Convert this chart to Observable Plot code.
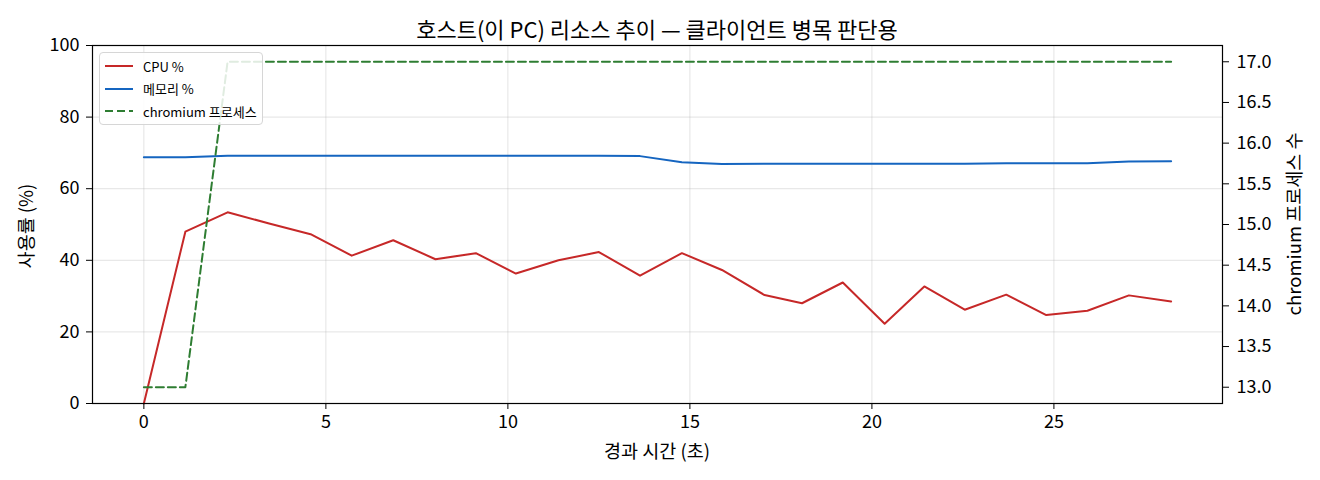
<!DOCTYPE html>
<html><head><meta charset="utf-8">
<script src="https://cdn.jsdelivr.net/npm/d3@7"></script>
<script src="https://cdn.jsdelivr.net/npm/@observablehq/plot@0.6"></script>
<style>
body{margin:0;background:#fff;font-family:"Noto Sans CJK KR","Noto Sans",sans-serif;color:#000;}
#wrap{position:relative;width:1320px;height:480px;overflow:hidden;}
#chart{position:absolute;left:0;top:0;}
#title{position:absolute;left:92px;width:1130px;top:15px;line-height:26px;text-align:center;font-size:22px;}
.lab{position:absolute;font-size:18.5px;white-space:nowrap;line-height:22px;}
#xlab{left:92px;width:1130px;top:439px;text-align:center;}
#ylab{left:25px;top:226px;transform:translate(-50%,-50%) rotate(-90deg);}
#rlab{left:1293px;top:224px;transform:translate(-50%,-50%) rotate(-90deg);}
#legend{position:absolute;left:99px;top:52px;width:162px;height:71px;border:1px solid #d6d6d6;border-radius:4px;background:rgba(255,255,255,0.85);font-size:13px;}
#legend .row{position:absolute;left:5px;height:16px;display:flex;align-items:center;}
#legend svg{margin-right:10px;}
</style></head>
<body>
<div id="wrap">
  <div id="chart"></div>
  <div id="title"></div>
  <div class="lab" id="xlab"></div>
  <div class="lab" id="ylab"></div>
  <div class="lab" id="rlab"></div>
  <div id="legend"></div>
</div>
<script>
// ---- data ----
const times = [0, 1.14, 2.30, 3.44, 4.58, 5.71, 6.85, 8.01, 9.12, 10.22, 11.39, 12.50, 13.63, 14.78, 15.88, 17.05, 18.08, 19.20, 20.35, 21.44, 22.55, 23.69, 24.79, 25.92, 27.06, 28.22];
const cpu = [0, 48.0, 53.4, 50.3, 47.3, 41.3, 45.6, 40.3, 42.0, 36.3, 40.0, 42.3, 35.7, 42.0, 37.3, 30.3, 28.0, 33.8, 22.3, 32.7, 26.2, 30.4, 24.7, 25.9, 30.2, 28.5];
const mem = [68.8, 68.8, 69.2, 69.2, 69.2, 69.2, 69.2, 69.2, 69.2, 69.2, 69.2, 69.2, 69.1, 67.4, 66.9, 67.0, 67.0, 67.0, 67.0, 67.0, 67.0, 67.1, 67.1, 67.1, 67.6, 67.7];
const procs = [13, 13, 17, 17, 17, 17, 17, 17, 17, 17, 17, 17, 17, 17, 17, 17, 17, 17, 17, 17, 17, 17, 17, 17, 17, 17];
const xTicks = [0, 5, 10, 15, 20, 25];
const yTicks = [0, 20, 40, 60, 80, 100];
const rightTicks = [13.0, 13.5, 14.0, 14.5, 15.0, 15.5, 16.0, 16.5, 17.0];
const seriesNames = ["CPU %", "메모리 %", "chromium 프로세스"];
const colors = ["#c62828", "#1565c0", "#2e7d32"];
const titleText = "호스트(이 PC) 리소스 추이 — 클라이언트 병목 판단용";
const xLabel = "경과 시간 (초)";
const yLabel = "사용률 (%)";
const rLabel = "chromium 프로세스 수";

// ---- scales ----
const xPad = (d3.max(times) - d3.min(times)) * 0.05;
const xDomain = [d3.min(times) - xPad, d3.max(times) + xPad];
const rPad = (d3.max(procs) - d3.min(procs)) * 0.05;
const rDomain = [d3.min(procs) - rPad, d3.max(procs) + rPad];
const toLeft = v => (v - rDomain[0]) / (rDomain[1] - rDomain[0]) * 100;
const fromLeft = v => rDomain[0] + v / 100 * (rDomain[1] - rDomain[0]);

const rows = times.map((t, i) => ({t, cpu: cpu[i], mem: mem[i], proc: procs[i]}));
const font = '"Noto Sans CJK KR","Noto Sans",sans-serif';

const chart = Plot.plot({
  width: 1320, height: 480,
  marginLeft: 92, marginRight: 98, marginTop: 45, marginBottom: 77,
  x: {domain: xDomain},
  y: {domain: [0, 100]},
  style: {fontFamily: font, fontSize: "18px", color: "#000", background: "#fff"},
  marks: [
    Plot.gridX(xTicks, {stroke: "#b0b0b0", strokeOpacity: 0.35}),
    Plot.gridY(yTicks, {stroke: "#b0b0b0", strokeOpacity: 0.35}),
    Plot.line(rows, {x: "t", y: "cpu", stroke: colors[0], strokeWidth: 2}),
    Plot.line(rows, {x: "t", y: "mem", stroke: colors[1], strokeWidth: 2}),
    Plot.line(rows, {x: "t", y: d => toLeft(d.proc), stroke: colors[2], strokeWidth: 2, strokeDasharray: "8,4"}),
    Plot.frame({stroke: "#000", strokeWidth: 1.2}),
    Plot.axisX(xTicks, {tickSize: 6, tickPadding: 6, label: null, tickFormat: d => String(d)}),
    Plot.axisY(yTicks, {anchor: "left", tickSize: 6, tickPadding: 7, label: null, tickFormat: d => String(d)}),
    Plot.axisY(rightTicks.map(toLeft), {anchor: "right", tickSize: 6, tickPadding: 8, label: null, tickFormat: d => fromLeft(d).toFixed(1)})
  ]
});
document.getElementById("chart").appendChild(chart);
document.getElementById("title").textContent = titleText;
document.getElementById("xlab").textContent = xLabel;
document.getElementById("ylab").textContent = yLabel;
document.getElementById("rlab").textContent = rLabel;

// legend
const leg = document.getElementById("legend");
seriesNames.forEach((name, i) => {
  const row = document.createElement("div");
  row.className = "row";
  row.style.top = (5 + i * 22.5) + "px";
  const dash = i === 2 ? ' stroke-dasharray="8,4"' : '';
  row.innerHTML = `<svg width="28" height="6"><line x1="0" y1="3" x2="28" y2="3" stroke="${colors[i]}" stroke-width="2"${dash}/></svg><span>${name}</span>`;
  leg.appendChild(row);
});
</script>
</body></html>
